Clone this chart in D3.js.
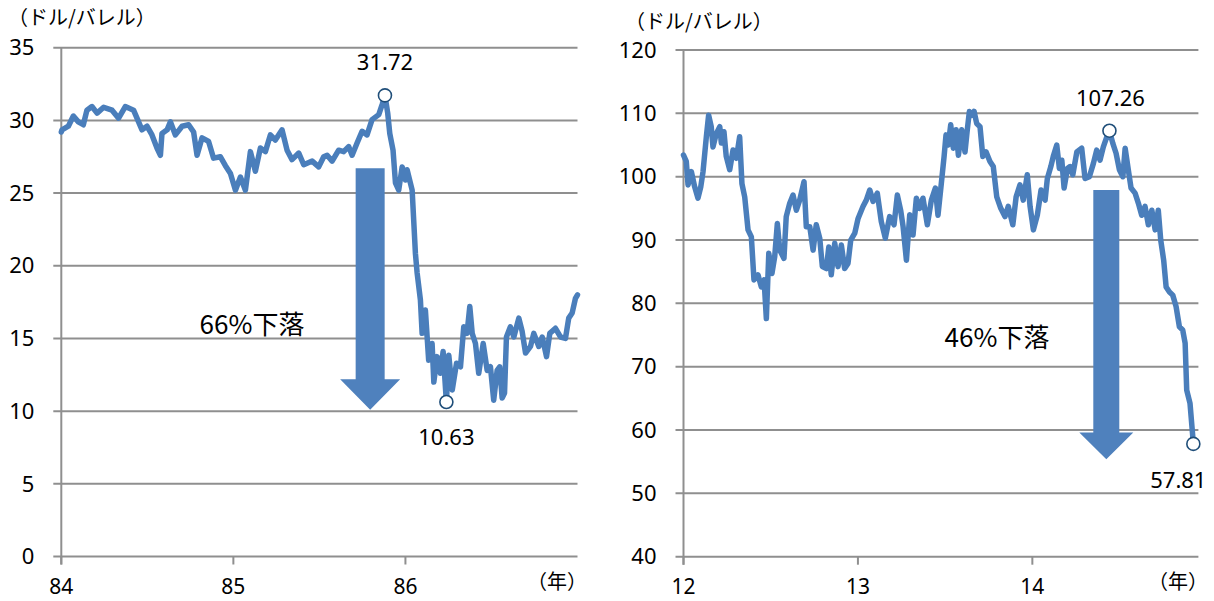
<!DOCTYPE html>
<html><head><meta charset="utf-8">
<script src="https://cdn.jsdelivr.net/npm/d3@7"></script>
<style>
body{margin:0;background:#fff}
text{fill:#000}
.num{font-family:"Noto Sans","Liberation Sans",sans-serif}
.jp{font-family:"Noto Sans CJK JP",sans-serif}
</style>
</head><body>
<svg id="c" width="1214" height="601"></svg>
<script>
// ---- Left panel data (1984-1986) ----
const leftX = [84.000,84.004,84.041,84.070,84.099,84.128,84.149,84.178,84.208,84.246,84.295,84.333,84.372,84.420,84.469,84.498,84.527,84.556,84.576,84.585,84.615,84.634,84.663,84.702,84.740,84.769,84.789,84.818,84.856,84.885,84.924,84.953,84.983,85.012,85.041,85.070,85.099,85.128,85.157,85.186,85.215,85.244,85.283,85.312,85.341,85.380,85.409,85.458,85.496,85.525,
85.545,85.574,85.612,85.641,85.670,85.690,85.719,85.748,85.777,85.806,85.845,85.865,85.881,85.897,85.909,85.928,85.942,85.961,85.981,86.000,86.010,86.039,86.058,86.068,86.087,86.097,86.116,86.135,86.155,86.165,86.184,86.203,86.219,86.238,86.252,86.272,86.297,86.320,86.339,86.358,86.374,86.388,86.407,86.426,86.452,86.475,86.494,86.513,86.533,86.548,86.562,86.576,86.587,86.610,86.630,86.659,86.678,86.698,86.727,86.746,86.775,86.795,86.820,86.839,86.872,86.901,86.930,86.949,86.969,86.988,87.000];
const leftY = [29.2,29.35,29.6,30.3,29.9,29.7,30.7,30.95,30.5,30.9,30.7,30.15,30.95,30.7,29.35,29.6,29.0,28.1,27.6,29.1,29.35,29.9,29.0,29.6,29.7,29.2,27.6,28.8,28.55,27.4,27.5,26.9,26.35,25.2,26.1,25.2,27.85,26.5,28.1,27.85,29.0,28.65,29.35,27.95,27.3,27.75,26.95,27.2,26.8,27.5,
27.6,27.2,27.95,27.85,28.2,27.6,28.45,29.25,29.0,30.05,30.4,31.1,31.72,30.5,29.1,27.95,25.7,25.2,26.8,25.9,26.6,25.2,20.85,19.5,17.65,15.35,16.95,13.5,14.65,12.0,13.75,12.6,14.1,10.63,13.85,11.45,13.3,13.05,15.8,15.35,17.2,15.35,14.65,12.6,14.65,12.8,13.05,10.75,12.8,13.05,10.9,11.25,15.1,15.8,15.1,16.4,15.5,14.0,14.45,15.35,14.45,15.1,13.75,15.35,15.7,15.1,15.0,16.4,16.75,17.75,18.0];
const leftYTicks = [0,5,10,15,20,25,30,35];
const leftXTicks = [84,85,86];
const leftXLabels = ["84","85","86"];
const leftMarks = [{v:31.72,label:"31.72",dx:0,dy:-33},{v:10.63,label:"10.63",dx:0,dy:35}];
const leftDropText = "66%下落";

// ---- Right panel data (2012-2014) ----
const rightX = [12.000,12.016,12.026,12.045,12.064,12.083,12.099,12.112,12.131,12.144,12.159,12.169,12.188,12.208,12.217,12.232,12.245,12.265,12.284,12.303,12.322,12.335,12.351,12.370,12.389,12.404,12.427,12.446,12.462,12.475,12.489,12.507,12.523,12.538,12.552,12.576,12.589,12.609,12.628,12.647,12.666,12.691,12.704,12.724,12.743,12.761,12.781,12.796,12.819,12.833,12.847,12.867,12.886,12.905,12.924,12.943,12.959,12.982,13.001,13.029,13.048,13.068,13.087,13.111,13.134,13.157,13.182,13.207,13.226,13.245,13.259,13.278,13.297,13.316,13.335,13.354,13.373,13.398,13.421,13.444,13.459,13.478,13.494,13.505,13.518,13.532,13.547,13.563,13.576,13.595,13.614,13.627,13.639,13.653,13.666,13.681,13.700,13.716,13.735,13.757,13.776,13.796,13.819,13.843,13.862,13.888,13.907,13.929,13.948,13.971,13.987,14.006,14.029,14.050,14.073,14.086,14.106,14.120,14.140,14.155,14.169,14.182,14.201,14.216,14.232,14.255,14.283,14.302,14.327,14.350,14.369,14.388,14.407,14.427,14.442,14.461,14.480,14.499,14.519,14.532,14.550,14.566,14.589,14.608,14.627,14.646,14.665,14.685,14.704,14.722,14.736,14.753,14.767,14.786,14.805,14.824,14.843,14.862,14.876,14.885,14.904,14.920,14.923];
const rightY = [103.4,102.4,98.7,100.8,98.4,96.6,98.4,100.8,106.3,109.7,107.9,104.7,106.8,107.9,105.3,107.1,103.2,101.1,104.2,102.9,106.3,98.9,96.8,91.6,90.5,83.7,84.5,82.6,83.7,77.6,87.9,84.7,87.4,92.6,88.4,87.1,93.7,95.8,97.1,94.7,96.3,99.2,92.1,92.1,88.4,92.4,90.3,85.8,85.5,88.9,84.5,89.5,85.8,89.2,85.5,86.3,90.0,91.1,93.4,95.3,96.3,97.9,96.1,97.4,92.9,90.3,93.7,92.4,97.1,94.7,92.1,86.8,94.0,90.8,96.6,95.0,96.6,92.4,96.3,98.2,93.9,98.9,103.2,106.6,105.0,108.2,104.5,107.4,103.4,107.4,103.9,107.4,110.3,109.7,110.3,108.4,107.9,103.2,103.9,102.4,101.6,96.8,95.0,93.7,95.3,92.4,96.8,98.7,96.3,100.3,95.3,91.6,94.0,97.9,96.3,99.7,101.6,103.2,105.0,101.3,102.6,98.2,101.3,101.6,100.3,103.9,104.5,99.7,100.0,102.1,104.2,102.6,104.7,106.3,107.26,105.3,103.7,101.1,100.0,104.5,101.1,98.2,97.4,95.8,93.9,95.3,92.4,94.7,91.6,94.7,90.0,86.8,82.6,81.8,81.3,79.5,76.3,75.8,73.7,66.3,64.2,58.9,57.81];
const rightYTicks = [40,50,60,70,80,90,100,110,120];
const rightXTicks = [12,13,14];
const rightXLabels = ["12","13","14"];
const rightMarks = [{v:107.26,label:"107.26",dx:1,dy:-32},{v:57.81,label:"57.81",dx:-15,dy:36}];
const rightDropText = "46%下落";

const unitLabel = "（ドル/バレル）";
const yearLabel = "（年）";

const svg = d3.select("#c");
const gridColor = "#8f8f8f";
const lineColor = "#4a7ebb";
const arrowColor = "#4f81bd";

function panel(cfg){
  const x = d3.scaleLinear().domain(cfg.xDomain).range(cfg.xRange);
  const y = d3.scaleLinear().domain(cfg.yDomain).range(cfg.yRange);
  const g = svg.append("g");
  const x0 = cfg.xRange[0], x1 = cfg.xRange[1];
  g.selectAll("line.grid").data(cfg.yTicks).join("line")
    .attr("x1", x0-8).attr("x2", x1)
    .attr("y1", d=>y(d)).attr("y2", d=>y(d))
    .attr("stroke", gridColor).attr("stroke-width", 2);
  g.append("line").attr("x1",x0).attr("x2",x0)
    .attr("y1", y(cfg.yDomain[0])+8).attr("y2", y(cfg.yDomain[1]))
    .attr("stroke", gridColor).attr("stroke-width", 2);
  g.selectAll("line.xt").data(cfg.xTicks).join("line")
    .attr("x1", d=>x(d)).attr("x2", d=>x(d))
    .attr("y1", y(cfg.yDomain[0])).attr("y2", y(cfg.yDomain[0])+8)
    .attr("stroke", gridColor).attr("stroke-width", 2);
  g.selectAll("text.yl").data(cfg.yTicks).join("text")
    .attr("class","num")
    .attr("x", x0-27).attr("y", d=>y(d)).attr("dy","0.35em")
    .attr("text-anchor","end").attr("font-size",22).text(d=>d);
  g.selectAll("text.xl").data(cfg.xTicks).join("text")
    .attr("class","num")
    .attr("x", d=>x(d)).attr("y", 594)
    .attr("text-anchor","middle").attr("font-size",21).text((d,i)=>cfg.xLabels[i]);
  g.append("text").attr("class","jp").attr("x", cfg.yearX).attr("y", 589)
    .attr("text-anchor","middle").attr("font-size",20).text(yearLabel);
  g.append("text").attr("class","jp").attr("x", cfg.unitX).attr("y", cfg.unitY)
    .attr("dy","0.35em").attr("text-anchor","start").attr("font-size",20).text(unitLabel);
  const a = cfg.arrow, cx = x(a.x);
  const pts = [[cx-a.sw,y(a.top)],[cx+a.sw,y(a.top)],[cx+a.sw,y(a.base)],[cx+a.hw,y(a.base)],
               [cx,y(a.tip)],[cx-a.hw,y(a.base)],[cx-a.sw,y(a.base)]];
  g.append("polygon").attr("points", pts.map(p=>p.join(",")).join(" ")).attr("fill", arrowColor);
  g.append("text").attr("class","jp").attr("x", cfg.dropPos[0]).attr("y", cfg.dropPos[1])
    .attr("dy","0.35em").attr("text-anchor","middle").attr("font-size",26).text(cfg.dropText);
  const data = cfg.xs.map((d,i)=>[d, cfg.ys[i]]);
  g.append("path").datum(data)
    .attr("d", d3.line().x(d=>x(d[0])).y(d=>y(d[1])))
    .attr("fill","none").attr("stroke", lineColor).attr("stroke-width",5.5)
    .attr("stroke-linejoin","round").attr("stroke-linecap","round");
  cfg.marks.forEach(m=>{
    const i = cfg.ys.indexOf(m.v);
    const px = x(cfg.xs[i]), py = y(m.v);
    g.append("circle").attr("cx",px).attr("cy",py).attr("r",6.5)
      .attr("fill","#fff").attr("stroke","#1f4e79").attr("stroke-width",1.6);
    g.append("text").attr("class","num").attr("x",px+m.dx).attr("y",py+m.dy).attr("dy","0.35em")
      .attr("text-anchor","middle").attr("font-size",22).text(m.label);
  });
}

panel({xDomain:[84,87], xRange:[61.3,577.5], yDomain:[0,35], yRange:[556.5,47.7],
  yTicks:leftYTicks, xTicks:leftXTicks, xLabels:leftXLabels, xs:leftX, ys:leftY, marks:leftMarks,
  yearX:557, unitX:8, unitY:18,
  arrow:{x:85.795, top:26.7, base:12.2, tip:10.1, sw:14.5, hw:30},
  dropText:leftDropText, dropPos:[252,325]});

panel({xDomain:[12,14.952], xRange:[683.5,1198.4], yDomain:[40,120], yRange:[556.7,50],
  yTicks:rightYTicks, xTicks:rightXTicks, xLabels:rightXLabels, xs:rightX, ys:rightY, marks:rightMarks,
  yearX:1178, unitX:625, unitY:22,
  arrow:{x:14.424, top:97.9, base:59.6, tip:55.4, sw:13, hw:27},
  dropText:rightDropText, dropPos:[997,338]});
</script>
</body></html>
